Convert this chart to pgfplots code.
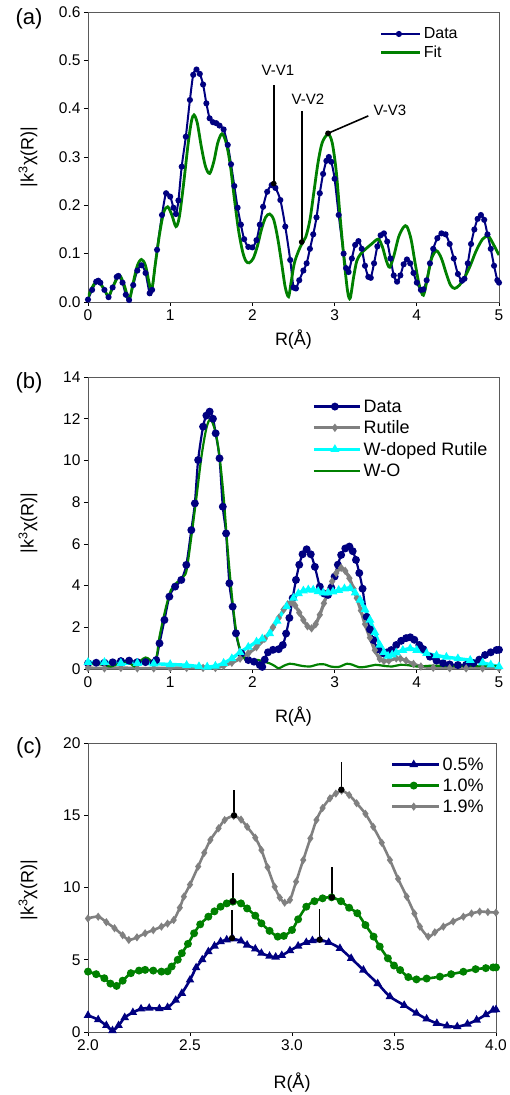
\documentclass[border=0pt]{standalone}
\usepackage{fontspec}
\setmainfont{Liberation Sans}
\usepackage{pgfplots}
\pgfplotsset{compat=1.18}

\definecolor{dnavy}{RGB}{0,0,128}
\definecolor{dgreen}{RGB}{0,128,0}
\definecolor{dgray}{RGB}{128,128,128}
\definecolor{dcyan}{RGB}{0,255,255}
\definecolor{axgray}{RGB}{90,90,90}

\newcommand\ticksize{\fontsize{15.5}{18}\selectfont}
\newcommand\labsize{\fontsize{18}{21}\selectfont}

\pgfplotsset{
  panel/.style={
    scale only axis, anchor=south west,
    tick align=outside, xtick pos=bottom, ytick pos=left,
    axis line style={draw=axgray, line width=0.8pt},
    major tick length=4pt, tick style={draw=black, line width=0.7pt},
    tick label style={font=\ticksize},
    label style={font=\labsize},
    /pgf/number format/assume math mode=true,
    ylabel={|k\textsuperscript{3}χ(R)|},
    xlabel={R(Å)},
    legend cell align=left,
    legend style={draw=none, fill=none, inner sep=0pt},
  },
  legimg/.style={legend image code/.code={%
    \draw[mark repeat=2,mark phase=2,##1] plot coordinates {(0pt,0pt) (#1/2,0pt) (#1,0pt)};
    \path (#1,0pt) -- (#1+4pt,0pt);}},
}

\begin{document}
\begin{tikzpicture}
\useasboundingbox (0,0) rectangle (510pt,1095pt);

% ---------------- (a)
\begin{axis}[panel, at={(88pt,793pt)}, width=411pt, height=290pt,
  xmin=0, xmax=5, ymin=0, ymax=0.6, xtick={0,1,...,5}, ytick={0,0.1,...,0.6},
  yticklabel style={/pgf/number format/fixed,/pgf/number format/precision=1,/pgf/number format/fixed zerofill},
  xlabel style={at={(axis description cs:0.5,-0.131)}, anchor=center},
  ylabel style={at={(axis description cs:-0.146,0.5)}, anchor=center},
  legimg=35pt,
  legend style={at={(axis cs:3.55,0.572)}, anchor=north west, font=\fontsize{16}{18}\selectfont, row sep=2pt},
]
\addplot[dnavy, line width=2pt, smooth, mark=*, mark size=2pt] coordinates {
(0.00,0.005) (0.05,0.025) (0.10,0.042) (0.125,0.044) (0.15,0.040) (0.20,0.025) (0.25,0.010)
(0.30,0.030) (0.35,0.052) (0.37,0.054) (0.42,0.040) (0.46,0.015) (0.50,0.004) (0.55,0.035)
(0.60,0.065) (0.65,0.076) (0.70,0.060) (0.75,0.018) (0.78,0.025) (0.84,0.108) (0.90,0.180)
(0.95,0.225) (1.00,0.218) (1.04,0.195) (1.07,0.182) (1.10,0.210) (1.14,0.280) (1.19,0.342)
(1.24,0.418) (1.28,0.470) (1.32,0.481) (1.36,0.472) (1.40,0.450) (1.44,0.411) (1.48,0.380)
(1.52,0.372) (1.56,0.370) (1.60,0.365) (1.65,0.357) (1.70,0.325) (1.74,0.285) (1.78,0.240)
(1.82,0.195) (1.86,0.160) (1.90,0.130) (1.95,0.114) (2.00,0.113) (2.05,0.128) (2.09,0.160)
(2.13,0.197) (2.18,0.228) (2.235,0.242) (2.28,0.236) (2.34,0.211) (2.40,0.156) (2.46,0.087)
(2.50,0.030) (2.53,0.028) (2.57,0.045) (2.62,0.065) (2.66,0.080) (2.70,0.110) (2.74,0.140)
(2.78,0.175) (2.82,0.225) (2.86,0.265) (2.90,0.292) (2.93,0.300) (2.96,0.290) (3.00,0.255)
(3.05,0.180) (3.11,0.100) (3.14,0.070) (3.17,0.062) (3.21,0.090) (3.25,0.118) (3.29,0.126)
(3.33,0.110) (3.37,0.075) (3.41,0.052) (3.44,0.050) (3.48,0.080) (3.52,0.115) (3.56,0.138)
(3.60,0.142) (3.64,0.125) (3.68,0.090) (3.72,0.055) (3.76,0.042) (3.80,0.055) (3.84,0.078)
(3.88,0.088) (3.92,0.080) (3.96,0.060) (4.00,0.040) (4.05,0.025) (4.08,0.026) (4.12,0.045)
(4.16,0.080) (4.20,0.110) (4.25,0.132) (4.30,0.142) (4.35,0.140) (4.40,0.120) (4.45,0.090)
(4.50,0.058) (4.55,0.044) (4.58,0.048) (4.62,0.080) (4.66,0.120) (4.70,0.150) (4.74,0.172)
(4.78,0.180) (4.82,0.170) (4.86,0.140) (4.90,0.110) (4.94,0.075) (4.98,0.045) (5.00,0.040)};
\addplot[dgreen, line width=2.8pt, smooth] coordinates {
(0.00,0.010) (0.05,0.030) (0.10,0.042) (0.15,0.038) (0.20,0.025) (0.25,0.012) (0.30,0.030)
(0.38,0.055) (0.44,0.035) (0.50,0.005) (0.55,0.040) (0.60,0.075) (0.65,0.088) (0.70,0.075)
(0.77,0.025) (0.82,0.080) (0.87,0.140) (0.92,0.185) (0.97,0.197) (1.02,0.180) (1.07,0.156)
(1.11,0.175) (1.16,0.240) (1.22,0.330) (1.26,0.375) (1.29,0.387) (1.33,0.370) (1.38,0.320)
(1.43,0.280) (1.48,0.266) (1.53,0.290) (1.58,0.330) (1.63,0.348) (1.68,0.330) (1.73,0.285)
(1.78,0.215) (1.83,0.150) (1.88,0.105) (1.92,0.085) (1.96,0.081) (2.01,0.090) (2.06,0.115)
(2.11,0.150) (2.16,0.175) (2.21,0.182) (2.26,0.170) (2.31,0.130) (2.36,0.075) (2.40,0.030)
(2.44,0.011) (2.47,0.040) (2.51,0.080) (2.56,0.105) (2.60,0.120) (2.65,0.135) (2.70,0.170)
(2.75,0.230) (2.80,0.290) (2.85,0.330) (2.92,0.347) (2.97,0.330) (3.02,0.270) (3.07,0.170)
(3.12,0.080) (3.16,0.020) (3.19,0.008) (3.23,0.050) (3.27,0.085) (3.32,0.100) (3.38,0.110)
(3.45,0.120) (3.53,0.130) (3.58,0.115) (3.63,0.085) (3.67,0.072) (3.72,0.095) (3.78,0.135)
(3.84,0.155) (3.88,0.156) (3.93,0.130) (3.98,0.080) (4.03,0.035) (4.08,0.014) (4.13,0.050)
(4.18,0.090) (4.24,0.106) (4.30,0.090) (4.36,0.058) (4.41,0.035) (4.46,0.028) (4.52,0.035)
(4.58,0.050) (4.65,0.075) (4.72,0.105) (4.80,0.130) (4.87,0.136) (4.93,0.120) (5.00,0.097)};
\legend{Data,Fit}
% annotations
\addplot[black, line width=1.6pt, mark=*, mark size=2pt, mark indices={1}, forget plot] coordinates {(2.26,0.245) (2.26,0.449)};
\addplot[black, line width=1.6pt, mark=*, mark size=2pt, mark indices={1}, forget plot] coordinates {(2.60,0.124) (2.60,0.395)};
\addplot[black, line width=1.6pt, mark=*, mark size=2pt, mark indices={1}, forget plot] coordinates {(2.92,0.349) (3.41,0.385)};
\node[font=\fontsize{15}{18}\selectfont] at (axis cs:2.31,0.479) {V-V1};
\node[font=\fontsize{15}{18}\selectfont] at (axis cs:2.676,0.42) {V-V2};
\node[font=\fontsize{15}{18}\selectfont] at (axis cs:3.674,0.397) {V-V3};
\end{axis}

% ---------------- (b)
\begin{axis}[panel, at={(88pt,426pt)}, width=411pt, height=292pt,
  xmin=0, xmax=5, ymin=0, ymax=14, xtick={0,1,...,5}, ytick={0,2,...,14},
  xlabel style={at={(axis description cs:0.5,-0.164)}, anchor=center},
  ylabel style={at={(axis description cs:-0.146,0.5)}, anchor=center},
  legimg=42pt,
  legend style={at={(axis cs:2.725,13.02)}, anchor=north west, font=\fontsize{18}{20}\selectfont, row sep=3pt},
]
\addplot[dnavy, line width=2.2pt, smooth, mark=*, mark size=2.8pt] coordinates {
(0.00,0.27) (0.10,0.30) (0.20,0.30) (0.30,0.32) (0.40,0.38) (0.50,0.40) (0.60,0.33) (0.70,0.33)
(0.80,0.30) (0.83,0.43) (0.87,1.23) (0.93,2.35) (0.99,3.47) (1.06,3.95) (1.135,4.27) (1.196,4.99)
(1.257,6.66) (1.30,7.94) (1.34,10.02) (1.40,11.62) (1.44,12.15) (1.48,12.34) (1.52,12.0) (1.553,11.3)
(1.60,10.1) (1.64,7.78) (1.68,6.5) (1.72,4.11) (1.76,2.99) (1.80,1.71) (1.865,0.75) (1.95,0.43)
(2.02,0.35) (2.09,0.19) (2.12,0.10) (2.15,0.45) (2.19,0.80) (2.25,0.92) (2.32,0.95) (2.37,1.15)
(2.41,1.70) (2.45,2.45) (2.49,3.40) (2.53,4.27) (2.57,5.00) (2.61,5.50) (2.66,5.74) (2.71,5.50)
(2.76,4.90) (2.82,3.95) (2.87,3.62) (2.92,3.55) (2.96,3.90) (3.00,4.43) (3.04,5.00) (3.08,5.47)
(3.13,5.78) (3.18,5.87) (3.22,5.65) (3.26,5.23) (3.30,4.60) (3.34,3.85) (3.39,2.50) (3.43,1.90)
(3.47,1.39) (3.53,0.95) (3.59,0.75) (3.64,0.80) (3.69,0.91) (3.75,1.15) (3.81,1.35) (3.87,1.48)
(3.92,1.52) (3.97,1.40) (4.03,1.15) (4.08,0.95) (4.16,0.59) (4.24,0.40) (4.32,0.28) (4.40,0.22)
(4.50,0.19) (4.60,0.20) (4.69,0.28) (4.76,0.45) (4.83,0.67) (4.90,0.80) (4.97,0.91) (5.00,0.92)};
\addplot[dgray, line width=3.2pt, smooth, mark=diamond*, mark size=1.6pt] coordinates {
(0.0,0.05) (0.2,0.03) (0.4,0.05) (0.6,0.03) (0.8,0.03) (1.0,0.04) (1.2,0.05) (1.4,0.05)
(1.55,0.05) (1.65,0.15) (1.75,0.30) (1.85,0.50) (1.95,0.75) (2.05,1.05) (2.15,1.45) (2.25,2.00)
(2.32,2.45) (2.38,2.85) (2.43,3.10) (2.478,3.20) (2.52,3.05) (2.57,2.70) (2.62,2.35) (2.67,2.05)
(2.72,1.95) (2.77,2.15) (2.82,2.60) (2.87,3.15) (2.92,3.70) (2.97,4.20) (3.02,4.60) (3.08,4.85)
(3.13,4.70) (3.18,4.35) (3.23,3.85) (3.27,3.40) (3.32,2.80) (3.37,2.15) (3.43,1.50) (3.49,0.90)
(3.55,0.48) (3.60,0.38) (3.66,0.40) (3.75,0.51) (3.80,0.50) (3.87,0.40) (3.96,0.24) (4.05,0.12)
(4.20,0.06) (4.40,0.04) (4.60,0.03) (4.80,0.03) (5.00,0.03)};
\addplot[dcyan, line width=3.4pt, smooth, mark=triangle*, mark size=1.8pt] coordinates {
(0.0,0.32) (0.2,0.32) (0.4,0.28) (0.6,0.28) (0.8,0.25) (1.0,0.22) (1.2,0.18) (1.35,0.12)
(1.45,0.10) (1.55,0.14) (1.65,0.28) (1.75,0.50) (1.85,0.80) (1.95,1.05) (2.05,1.30) (2.12,1.45)
(2.21,1.70) (2.30,2.30) (2.417,3.00) (2.50,3.40) (2.56,3.62) (2.62,3.75) (2.68,3.80) (2.74,3.79)
(2.80,3.72) (2.86,3.65) (2.92,3.65) (2.98,3.70) (3.05,3.78) (3.12,3.85) (3.19,3.87) (3.25,3.65)
(3.31,3.31) (3.37,2.85) (3.43,2.35) (3.49,1.75) (3.55,1.15) (3.60,0.80) (3.65,0.62) (3.70,0.68)
(3.75,0.78) (3.83,0.90) (3.92,0.98) (4.00,0.90) (4.12,0.75) (4.24,0.65) (4.36,0.57) (4.50,0.50)
(4.65,0.42) (4.80,0.30) (4.90,0.20) (5.00,0.12)};
\addplot[dgreen, line width=2.2pt, smooth] coordinates {
(0.00,0.20) (0.08,0.25) (0.18,0.20) (0.28,0.12) (0.37,0.25) (0.45,0.35) (0.52,0.25) (0.57,0.12)
(0.64,0.40) (0.70,0.55) (0.75,0.45) (0.80,0.22) (0.84,0.70) (0.87,1.55) (0.95,2.99) (1.01,3.79)
(1.07,4.10) (1.16,4.43) (1.20,4.75) (1.257,6.34) (1.32,8.26) (1.38,10.18) (1.44,11.54) (1.49,11.97)
(1.55,11.38) (1.60,10.18) (1.65,8.26) (1.70,5.70) (1.76,3.15) (1.82,1.39) (1.886,0.59) (1.95,0.35)
(2.00,0.40) (2.07,0.43) (2.14,0.35) (2.21,0.27) (2.27,0.15) (2.32,0.03) (2.38,0.15) (2.45,0.25)
(2.52,0.22) (2.60,0.15) (2.70,0.12) (2.80,0.22) (2.88,0.22) (2.95,0.12) (3.05,0.10) (3.15,0.25)
(3.22,0.20) (3.30,0.08) (3.40,0.12) (3.50,0.20) (3.60,0.15) (3.70,0.12) (3.80,0.20) (3.90,0.18)
(4.00,0.12) (4.20,0.16) (4.40,0.14) (4.60,0.16) (4.80,0.14) (5.00,0.15)};
\legend{Data,Rutile,W-doped Rutile,W-O}
\end{axis}

% ---------------- (c)
\begin{axis}[panel, at={(88pt,63pt)}, width=408pt, height=289pt,
  xmin=2, xmax=4, ymin=0, ymax=20, xtick={2,2.5,...,4}, ytick={0,5,...,20},
  xticklabel style={/pgf/number format/fixed,/pgf/number format/precision=1,/pgf/number format/fixed zerofill},
  xlabel style={at={(axis description cs:0.5,-0.176)}, anchor=center},
  ylabel style={at={(axis description cs:-0.147,0.49)}, anchor=center},
  legimg=43pt,
  legend style={at={(axis cs:3.484,19.15)}, anchor=north west, font=\fontsize{18}{20}\selectfont, row sep=3pt},
]
\addplot[dnavy, line width=2.6pt, smooth, mark=triangle*, mark size=2.4pt] coordinates {
(2.00,1.15) (2.05,0.85) (2.09,0.45) (2.12,0.10) (2.15,0.45) (2.18,1.00) (2.22,1.35) (2.26,1.60)
(2.30,1.65) (2.35,1.62) (2.39,1.70) (2.43,2.20) (2.46,2.68) (2.50,3.60) (2.53,4.45) (2.56,5.00)
(2.59,5.56) (2.62,5.95) (2.65,6.25) (2.68,6.38) (2.71,6.44) (2.75,6.30) (2.78,6.02) (2.82,5.75)
(2.85,5.45) (2.89,5.25) (2.92,5.19) (2.95,5.30) (2.99,5.63) (3.03,5.95) (3.07,6.20) (3.10,6.33)
(3.137,6.37) (3.18,6.20) (3.235,5.79) (3.29,5.10) (3.35,4.29) (3.42,3.35) (3.48,2.45) (3.55,1.85)
(3.61,1.30) (3.66,0.90) (3.71,0.60) (3.76,0.42) (3.81,0.37) (3.86,0.55) (3.905,0.83) (3.95,1.20)
(3.986,1.52) (4.00,1.55)};
\addplot[dgreen, line width=2.6pt, smooth, mark=*, mark size=2.6pt] coordinates {
(2.00,4.18) (2.04,4.00) (2.08,3.72) (2.11,3.35) (2.14,3.19) (2.17,3.55) (2.21,4.07) (2.25,4.25)
(2.28,4.30) (2.32,4.25) (2.36,4.18) (2.39,4.20) (2.41,4.53) (2.44,5.00) (2.46,5.45) (2.49,6.10)
(2.52,6.83) (2.55,7.45) (2.59,7.98) (2.62,8.35) (2.65,8.67) (2.68,8.90) (2.71,9.02) (2.75,8.90)
(2.78,8.55) (2.82,8.05) (2.85,7.52) (2.89,7.00) (2.93,6.60) (2.96,6.65) (3.00,7.06) (3.03,7.80)
(3.07,8.67) (3.11,9.05) (3.15,9.25) (3.194,9.32) (3.24,9.05) (3.28,8.60) (3.32,8.22) (3.36,7.40)
(3.40,6.60) (3.43,5.91) (3.47,5.10) (3.50,4.60) (3.53,4.29) (3.57,3.80) (3.61,3.64) (3.66,3.70)
(3.725,3.83) (3.78,4.00) (3.84,4.17) (3.90,4.35) (3.95,4.42) (3.986,4.47) (4.00,4.47)};
\addplot[dgray, line width=2.6pt, smooth, mark=diamond*, mark size=2pt] coordinates {
(2.00,7.86) (2.05,7.98) (2.09,7.60) (2.13,7.18) (2.17,6.70) (2.20,6.37) (2.24,6.55) (2.28,6.83)
(2.32,7.05) (2.36,7.29) (2.39,7.50) (2.42,7.75) (2.45,8.60) (2.47,9.37) (2.50,10.20) (2.54,11.45)
(2.57,12.40) (2.60,13.29) (2.64,14.10) (2.67,14.67) (2.714,14.95) (2.75,14.70) (2.78,14.20) (2.82,13.45)
(2.85,12.59) (2.88,11.40) (2.915,10.05) (2.94,9.30) (2.964,8.95) (2.99,9.14) (3.02,10.40) (3.055,11.90)
(3.09,13.40) (3.12,14.67) (3.15,15.50) (3.186,16.17) (3.215,16.50) (3.243,16.70) (3.28,16.40) (3.317,15.83)
(3.36,15.10) (3.398,14.20) (3.44,13.10) (3.48,11.90) (3.52,10.60) (3.562,9.37) (3.60,8.20) (3.627,7.29)
(3.668,6.60) (3.70,6.90) (3.742,7.29) (3.79,7.65) (3.84,7.98) (3.88,8.20) (3.92,8.33) (3.96,8.30) (4.00,8.26)};
\legend{0.5\%,1.0\%,1.9\%}
\addplot[black, line width=1.5pt, mark=*, mark size=2.4pt, mark indices={1}, forget plot] coordinates {(2.716,14.99) (2.716,16.77)};
\addplot[black, line width=1.5pt, mark=*, mark size=2.4pt, mark indices={1}, forget plot] coordinates {(3.242,16.77) (3.242,18.66)};
\addplot[black, line width=1.5pt, mark=*, mark size=2.4pt, mark indices={1}, forget plot] coordinates {(2.71,9.04) (2.71,11.0)};
\addplot[black, line width=1.5pt, mark=*, mark size=2.4pt, mark indices={1}, forget plot] coordinates {(3.196,9.32) (3.196,11.42)};
\addplot[black, line width=1.5pt, mark=*, mark size=2.4pt, mark indices={1}, forget plot] coordinates {(2.706,6.5) (2.706,8.47)};
\addplot[black, line width=1.5pt, mark=*, mark size=2.4pt, mark indices={1}, forget plot] coordinates {(3.136,6.39) (3.136,8.51)};
\end{axis}

\node[font=\fontsize{22}{26}\selectfont] at (29pt,1076pt) {(a)};
\node[font=\fontsize{22}{26}\selectfont] at (29pt,712pt) {(b)};
\node[font=\fontsize{22}{26}\selectfont] at (29pt,347pt) {(c)};
\end{tikzpicture}
\end{document}
